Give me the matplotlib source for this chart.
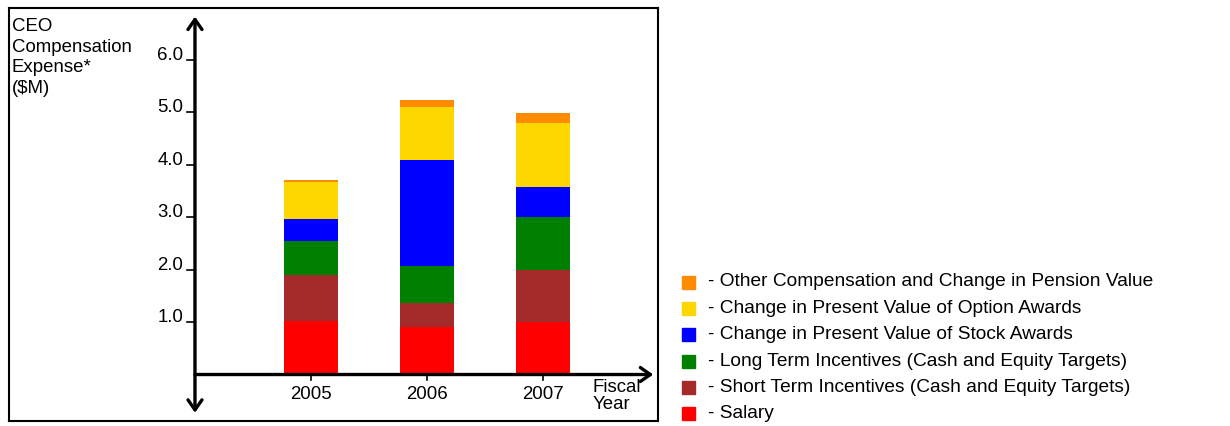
import matplotlib
matplotlib.use("Agg")
import matplotlib.pyplot as plt
from matplotlib.patches import Rectangle

plt.rcParams['font.family'] = ['Liberation Sans', 'DejaVu Sans']

# fiscal years and compensation components ($M), stacked bottom to top
years = ['2005', '2006', '2007']
salary = [1.02, 0.90, 1.01]
short_term = [0.88, 0.47, 0.99]
long_term = [0.65, 0.71, 1.01]
stock_awards = [0.42, 2.02, 0.57]
option_awards = [0.71, 1.01, 1.22]
other_comp = [0.03, 0.13, 0.19]

series = [salary, short_term, long_term, stock_awards, option_awards, other_comp]
labels = ['Salary',
          'Short Term Incentives (Cash and Equity Targets)',
          'Long Term Incentives (Cash and Equity Targets)',
          'Change in Present Value of Stock Awards',
          'Change in Present Value of Option Awards',
          'Other Compensation and Change in Pension Value']
colors = ['#ff0000', '#a52a2a', '#008000', '#0000ff', '#ffd700', '#ff8c00']
y_ticks = [1.0, 2.0, 3.0, 4.0, 5.0, 6.0]

W, H = 1230, 426
FS = 13.4
fig = plt.figure(figsize=(W / 100, H / 100), dpi=100)

# chart box
ax = fig.add_axes([9 / W, 1 - 421 / H, (658 - 9) / W, (421 - 8) / H])
ax.set_xlim(-2.603, 2.991)
ax.set_ylim(-0.887, 6.994)
ax.set_xticks([])
ax.set_yticks([])
for s in ax.spines.values():
    s.set_linewidth(1.5)

x = list(range(len(years)))
bottom = [0.0] * len(years)
for vals, col in zip(series, colors):
    ax.bar(x, vals, width=0.466, bottom=bottom, color=col, zorder=2)
    bottom = [b + v for b, v in zip(bottom, vals)]

# axes with arrow heads
arrow = dict(arrowstyle='<->,head_length=0.4,head_width=0.28', lw=2.4,
             color='black', mutation_scale=18, shrinkA=0, shrinkB=0)
ax.annotate('', xy=(-1.0, 6.83), xytext=(-1.0, -0.73), arrowprops=arrow, zorder=3)
ax.annotate('', xy=(2.95, 0.0), xytext=(-1.0, 0.0),
            arrowprops=dict(arrow, arrowstyle='->,head_length=0.4,head_width=0.28'),
            zorder=3)

# value ticks
for t in y_ticks:
    ax.plot([-1.07, -1.0], [t, t], color='black', lw=1.2, zorder=3)
    ax.text(-1.10, t, '%.1f' % t, ha='right', va='baseline', fontsize=FS)

# category ticks and labels
for xi, yr in zip(x, years):
    ax.plot([xi, xi], [0, -0.1], color='black', lw=1.2, zorder=3)
    ax.text(xi, -0.39, yr, ha='center', va='center', fontsize=FS)

ax.text(2.43, -0.08, 'Fiscal\nYear', ha='left', va='top', fontsize=FS,
        linespacing=1.05)
ax.text(-2.58, 6.80, 'CEO\nCompensation\nExpense*\n($M)', ha='left', va='top',
        fontsize=FS, linespacing=1.28)

# legend drawn in pixel coordinates
lg = fig.add_axes([0, 0, 1, 1])
lg.set_xlim(0, W)
lg.set_ylim(H, 0)
lg.axis('off')
row_y = 282
for lab, col in zip(labels[::-1], colors[::-1]):
    lg.add_patch(Rectangle((682, row_y - 6.5), 13, 13, color=col))
    lg.text(708, row_y, '- ' + lab, ha='left', va='center', fontsize=13.8)
    row_y += 26.4

fig.savefig('out.png', dpi=100)
